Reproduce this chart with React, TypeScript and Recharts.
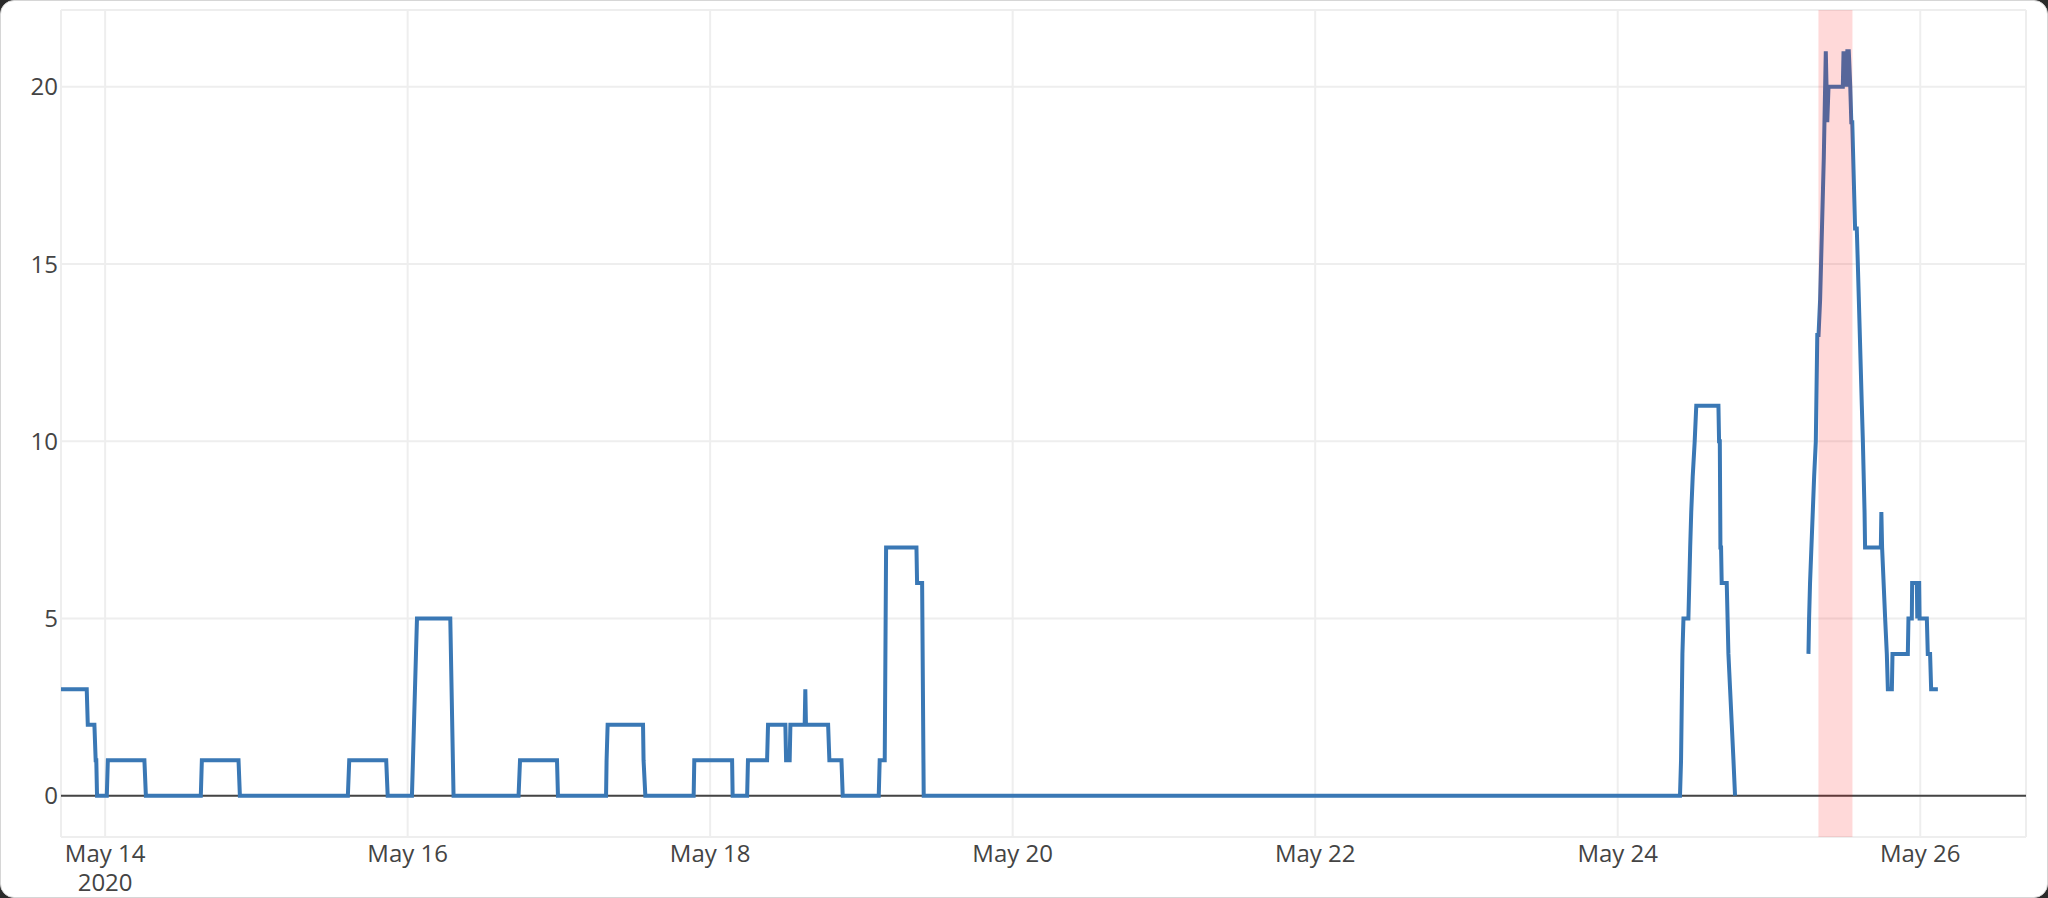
import { LineChart, Line, CartesianGrid, XAxis, YAxis, ReferenceLine, ReferenceArea } from 'recharts';

// readings (UTC, 2020), value per sample; null breaks the line
const earlyTimes = [
    '05-13 17:00', '05-13 21:05', '05-13 21:15', '05-13 22:18', '05-13 22:30', '05-13 22:36', '05-13 22:43',
    '05-14 00:16', '05-14 00:26', '05-14 06:14', '05-14 06:28', '05-14 15:11', '05-14 15:21', '05-14 21:10', '05-14 21:23',
    '05-15 14:31', '05-15 14:44', '05-15 20:36', '05-15 20:50',
    '05-16 00:41', '05-16 01:29', '05-16 06:46', '05-16 07:17', '05-16 17:36', '05-16 17:50', '05-16 23:42', '05-16 23:51',
    '05-17 07:29', '05-17 07:34', '05-17 07:44', '05-17 13:21', '05-17 13:26', '05-17 13:43', '05-17 21:23', '05-17 21:29',
];
const earlyCounts = [
    3, 3, 2, 2, 1, 1, 0,
    0, 1, 1, 0, 0, 1, 1, 0,
    0, 1, 1, 0,
    0, 5, 5, 0, 0, 1, 1, 0,
    0, 1, 2, 2, 1, 0, 0, 1,
];

const midTimes = [
    '05-18 03:29', '05-18 03:34', '05-18 05:52', '05-18 06:00', '05-18 09:02', '05-18 09:11', '05-18 11:56', '05-18 12:03',
    '05-18 12:37', '05-18 12:44', '05-18 15:00', '05-18 15:06', '05-18 15:12', '05-18 18:43', '05-18 18:55', '05-18 20:50',
    '05-18 21:02', '05-19 02:45', '05-19 02:54', '05-19 03:42', '05-19 03:55', '05-19 08:44', '05-19 08:50', '05-19 09:38',
    '05-19 09:53',
];
const midCounts = [
    1, 0, 0, 1, 1, 2, 2, 1,
    1, 2, 2, 3, 2, 2, 1, 1,
    0, 0, 1, 1, 7, 7, 6, 6,
    0,
];

const may24Times = [
    '05-24 09:53', '05-24 10:03', '05-24 10:16', '05-24 10:26', '05-24 11:13', '05-24 11:30', '05-24 11:40', '05-24 11:54',
    '05-24 12:13', '05-24 12:28', '05-24 15:59', '05-24 16:05', '05-24 16:12', '05-24 16:18', '05-24 16:24', '05-24 16:30',
    '05-24 17:18', '05-24 17:34', '05-24 17:50', '05-24 18:06', '05-24 18:22', '05-24 18:37', '05-25 00:00',
];
const may24Counts = [
    0, 1, 4, 5, 5, 7, 8, 9,
    10, 11, 11, 10, 10, 7, 7, 6,
    6, 4, 3, 2, 1, 0, null,
];

const may25Times = [
    '05-25 06:16', '05-25 06:22', '05-25 06:31', '05-25 07:10', '05-25 07:26', '05-25 07:40', '05-25 07:52', '05-25 08:07',
    '05-25 08:42', '05-25 09:01', '05-25 09:15', '05-25 09:27', '05-25 11:43', '05-25 11:50', '05-25 11:57', '05-25 12:07',
    '05-25 12:16', '05-25 12:26', '05-25 12:40', '05-25 12:54', '05-25 13:04', '05-25 13:13', '05-25 13:40', '05-25 13:56',
    '05-25 14:06', '05-25 14:44', '05-25 14:54', '05-25 15:10', '05-25 15:15', '05-25 17:45', '05-25 17:50', '05-25 17:57',
    '05-25 18:26', '05-25 18:42', '05-25 18:52', '05-25 19:30', '05-25 19:36', '05-25 22:02', '05-25 22:08', '05-25 22:40',
    '05-25 22:43', '05-25 23:28', '05-25 23:32', '05-25 23:37', '05-25 23:50', '05-25 23:54', '05-26 01:03', '05-26 01:12',
    '05-26 01:34', '05-26 01:44', '05-26 02:48',
];
const may25Counts = [
    4, 5, 6, 9, 10, 13, 13, 14,
    18, 21, 19, 20, 20, 21, 20, 21,
    20, 21, 21, 20, 19, 19, 16, 16,
    15, 11, 10, 8, 7, 7, 8, 7,
    5, 4, 3, 3, 4, 4, 5, 5,
    6, 6, 5, 6, 6, 5, 5, 4,
    4, 3, 3,
];

const dayTicks = ['05-14 00:00', '05-16 00:00', '05-18 00:00', '05-20 00:00', '05-22 00:00', '05-24 00:00', '05-26 00:00'];
const countTicks = [0, 5, 10, 15, 20];
const xRange = ['05-13 17:00', '05-26 16:47'];
const highlight = ['05-25 07:51', '05-25 13:15'];

const MONTHS = ['Jan', 'Feb', 'Mar', 'Apr', 'May', 'Jun', 'Jul', 'Aug', 'Sep', 'Oct', 'Nov', 'Dec'];
const FONT = "'Open Sans', 'Noto Sans', sans-serif";

const toMs = (s: string) => {
    const [md, hm] = s.split(' ');
    const [mo, d] = md.split('-').map(Number);
    const [h, m] = hm.split(':').map(Number);
    return Date.UTC(2020, mo - 1, d, h, m);
};

const rows = [
    ...earlyTimes.map((t, i) => ({ t: toMs(t), v: earlyCounts[i] })),
    ...midTimes.map((t, i) => ({ t: toMs(t), v: midCounts[i] })),
    ...may24Times.map((t, i) => ({ t: toMs(t), v: may24Counts[i] })),
    ...may25Times.map((t, i) => ({ t: toMs(t), v: may25Counts[i] })),
];

const DayTick = ({ x, y, payload, index }: any) => {
    const d = new Date(payload.value);
    return (
        <text x={x} y={y} textAnchor="middle" fill="#444" fontSize={24} fontFamily={FONT}>
            <tspan x={x} dy={25}>{`${MONTHS[d.getUTCMonth()]} ${d.getUTCDate()}`}</tspan>
            {index === 0 && <tspan x={x} dy={29}>2020</tspan>}
        </text>
    );
};

export default function App() {
    return (
        <div style={{ position: 'absolute', left: 0, top: 0, width: 2048, height: 898, background: '#2a2a2a' }}>
            <div style={{ width: 2048, height: 898, background: '#fff', borderRadius: 14, border: '1px solid #d6d6d6', boxSizing: 'border-box', overflow: 'hidden' }}>
                <LineChart width={2046} height={896} data={rows} margin={{ top: 9, right: 21, bottom: 10, left: 0 }}>
                    <CartesianGrid stroke="#eee" strokeWidth={2} />
                    <XAxis
                        dataKey="t"
                        type="number"
                        domain={[toMs(xRange[0]), toMs(xRange[1])]}
                        ticks={dayTicks.map(toMs)}
                        allowDataOverflow
                        axisLine={false}
                        tickLine={false}
                        tickSize={0}
                        tickMargin={0}
                        height={50}
                        tick={<DayTick />}
                        interval={0}
                    />
                    <YAxis
                        type="number"
                        domain={[-1.1667, 22.1667]}
                        ticks={countTicks}
                        allowDataOverflow
                        axisLine={false}
                        tickLine={false}
                        tickSize={0}
                        tickMargin={3}
                        width={60}
                        tick={{ fill: '#444', fontSize: 24, fontFamily: FONT }}
                    />
                    <ReferenceLine y={0} stroke="#444" strokeWidth={2} />
                    <Line
                        type="linear"
                        dataKey="v"
                        stroke="#3a78b5"
                        strokeWidth={4}
                        dot={false}
                        activeDot={false}
                        isAnimationActive={false}
                    />
                    <ReferenceArea
                        x1={toMs(highlight[0])}
                        x2={toMs(highlight[1])}
                        fill="red"
                        fillOpacity={0.15}
                        stroke="none"
                        zIndex={450}
                    />
                </LineChart>
            </div>
        </div>
    );
}
